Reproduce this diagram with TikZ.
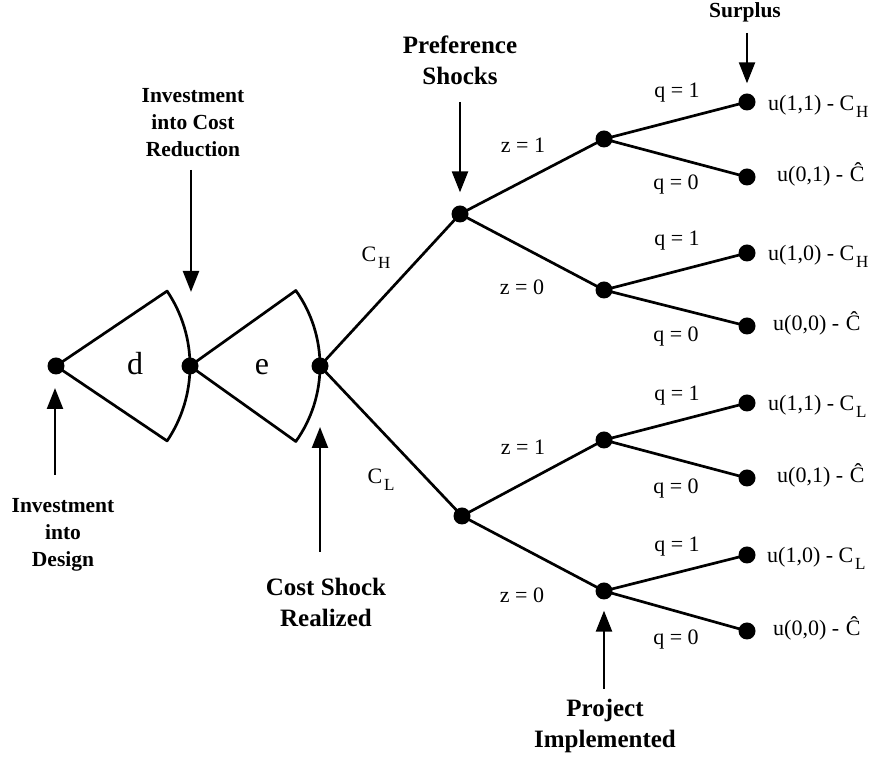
\documentclass[tikz,border=0pt]{standalone}
\usepackage{fontspec}
\setmainfont{Liberation Serif}
\usetikzlibrary{arrows.meta}
\begin{document}
\begin{tikzpicture}[x=1pt,y=1pt,
  dot/.style={circle,fill=black,inner sep=0pt,minimum size=17pt},
  edge/.style={line width=2.7pt},
  arr/.style={line width=2.4pt,-{Triangle[length=21pt,width=16pt]}},
  lab/.style={font=\fontsize{22}{26}\selectfont,inner sep=0pt},
  big/.style={font=\fontsize{32}{36}\selectfont,inner sep=0pt,anchor=base},
  head/.style={font=\fontsize{21.5}{27}\selectfont\bfseries,align=center,inner sep=0pt},
  headL/.style={font=\fontsize{25}{31}\selectfont\bfseries,align=center,inner sep=0pt},
  leaf/.style={font=\fontsize{22}{26}\selectfont,anchor=base west,inner sep=0pt}]
\useasboundingbox (0,0) rectangle (876,757);
\newcommand{\subH}[1]{C\hspace{0.08em}\raisebox{-7pt}{\fontsize{17}{17}\selectfont #1}}
% fans
\node[dot] (A) at (56,391) {};
\node[dot] (B) at (190,391) {};
\node[dot] (C) at (320,391) {};
\draw[edge,line join=round] (A.center) -- ++(34:134) arc[start angle=34,end angle=-34,radius=134] -- cycle;
\draw[edge,line join=round] (B.center) -- ++(35.5:130) arc[start angle=35.5,end angle=-35.5,radius=130] -- cycle;
\node[big] (dlab) at (135,382) {d};
\node[big] (elab) at (262,382) {e};
% tree nodes
\node[dot] (D) at (460,543) {};
\node[dot] (E) at (462,241) {};
\node[dot] (F1) at (604,618) {};
\node[dot] (F2) at (604,467) {};
\node[dot] (F3) at (604,317) {};
\node[dot] (F4) at (604,166) {};
\node[dot] (L1) at (747,655) {};
\node[dot] (L2) at (747,580) {};
\node[dot] (L3) at (747,504) {};
\node[dot] (L4) at (747,431) {};
\node[dot] (L5) at (747,354) {};
\node[dot] (L6) at (747,279) {};
\node[dot] (L7) at (747,202) {};
\node[dot] (L8) at (747,126) {};
\draw[edge] (C.center) -- (D.center);
\draw[edge] (C.center) -- (E.center);
\draw[edge] (D.center) -- (F1.center);
\draw[edge] (D.center) -- (F2.center);
\draw[edge] (E.center) -- (F3.center);
\draw[edge] (E.center) -- (F4.center);
\draw[edge] (F1.center) -- (L1.center);
\draw[edge] (F1.center) -- (L2.center);
\draw[edge] (F2.center) -- (L3.center);
\draw[edge] (F2.center) -- (L4.center);
\draw[edge] (F3.center) -- (L5.center);
\draw[edge] (F3.center) -- (L6.center);
\draw[edge] (F4.center) -- (L7.center);
\draw[edge] (F4.center) -- (L8.center);
% edge labels
\node[lab] (ch) at (376,499) {\subH{H}};
\node[lab] (cl) at (381,277) {\subH{L}};
\node[lab] (z1a) at (523,612) {z = 1};
\node[lab] (z0a) at (522,470) {z = 0};
\node[lab] (z1b) at (523,310) {z = 1};
\node[lab] (z0b) at (522,162) {z = 0};
\node[lab] (q1a) at (677,664) {q = 1};
\node[lab] (q0a) at (676,572) {q = 0};
\node[lab] (q1b) at (677,516) {q = 1};
\node[lab] (q0b) at (676,420) {q = 0};
\node[lab] (q1c) at (677,361) {q = 1};
\node[lab] (q0c) at (676,268) {q = 0};
\node[lab] (q1d) at (677,210) {q = 1};
\node[lab] (q0d) at (676,117) {q = 0};
% leaf labels
\node[leaf] (t1) at (768,646) {u(1,1) - \subH{H}};
\node[leaf] (t2) at (777,575) {u(0,1) -\hspace{0.3em}\^C};
\node[leaf] (t3) at (768,496) {u(1,0) - \subH{H}};
\node[leaf] (t4) at (773,426) {u(0,0) -\hspace{0.3em}\^C};
\node[leaf] (t5) at (768,346) {u(1,1) - \subH{L}};
\node[leaf] (t6) at (777,274) {u(0,1) -\hspace{0.3em}\^C};
\node[leaf] (t7) at (767,194) {u(1,0) - \subH{L}};
\node[leaf] (t8) at (773,121) {u(0,0) -\hspace{0.3em}\^C};
% annotations
\node[head] (surplus) at (745,745) {Surplus};
\coordinate (sa) at (747,724);
\draw[arr,shorten >=10pt] (sa) -- (L1);
\node[headL] (pref) at (460,697) {Preference\\Shocks};
\coordinate (pa) at (460,655);
\draw[arr,shorten >=13pt] (pa) -- (D);
\node[head] (icr) at (193,634) {Investment\\into Cost\\Reduction};
\coordinate (ia) at (191,587);
\draw[arr] (ia) -- (191,465) coordinate (itip);
\node[head] (idz) at (63,222) {Investment\\into\\Design};
\coordinate (da) at (55,282);
\draw[arr] (da) -- (55,369) coordinate (dtip);
\node[headL] (csr) at (326,155) {Cost Shock\\Realized};
\coordinate (ca) at (320,205);
\draw[arr] (ca) -- (320,330) coordinate (ctip);
\node[headL] (proj) at (605,31) {Project\\Implemented};
\coordinate (pja) at (604,68);
\draw[arr,shorten >=11pt] (pja) -- (F4);
\end{tikzpicture}
\end{document}
